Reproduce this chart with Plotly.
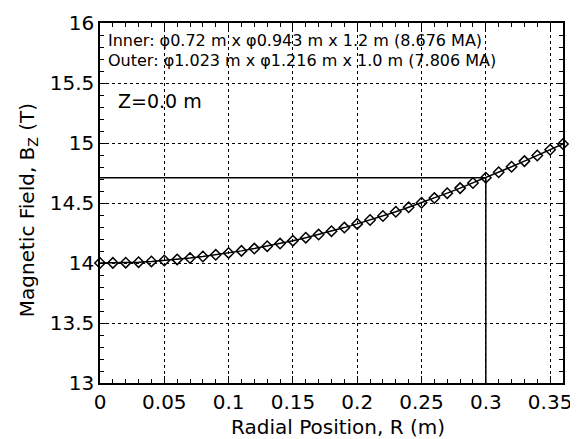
import plotly.graph_objects as go

radius_m = [0.00, 0.01, 0.02, 0.03, 0.04, 0.05, 0.06, 0.07, 0.08, 0.09,
            0.10, 0.11, 0.12, 0.13, 0.14, 0.15, 0.16, 0.17, 0.18, 0.19,
            0.20, 0.21, 0.22, 0.23, 0.24, 0.25, 0.26, 0.27, 0.28, 0.29,
            0.30, 0.31, 0.32, 0.33, 0.34, 0.35, 0.36]
bz_tesla = [14.000, 14.001, 14.003, 14.007, 14.013, 14.021, 14.030, 14.041, 14.054, 14.068,
            14.084, 14.101, 14.120, 14.140, 14.162, 14.186, 14.211, 14.237, 14.265, 14.295,
            14.326, 14.358, 14.392, 14.427, 14.464, 14.502, 14.541, 14.582, 14.624, 14.667,
            14.711, 14.756, 14.802, 14.849, 14.896, 14.944, 14.992]

x_ticks = [0, 0.05, 0.1, 0.15, 0.2, 0.25, 0.3, 0.35]
x_tick_labels = ["0", "0.05", "0.1", "0.15", "0.2", "0.25", "0.3", "0.35"]
y_ticks = [13, 13.5, 14, 14.5, 15, 15.5, 16]
y_tick_labels = ["13", "13.5", "14", "14.5", "15", "15.5", "16"]

x_title = "Radial Position, R (m)"
y_title = "Magnetic Field, B<sub>Z</sub> (T)"
inner_text = "Inner: φ0.72 m x φ0.943 m x 1.2 m (8.676 MA)"
outer_text = "Outer: φ1.023 m x φ1.216 m x 1.0 m (7.806 MA)"
z_text = "Z=0.0 m"

marker_r = 0.30
marker_b = bz_tesla[radius_m.index(marker_r)]

FONT = "DejaVu Sans, Liberation Sans, Arial, sans-serif"

fig = go.Figure()
fig.add_trace(go.Scatter(
    x=radius_m, y=bz_tesla, mode="lines+markers",
    line=dict(color="black", width=1.5),
    marker=dict(symbol="diamond-open", size=8, color="black", line=dict(width=1.5)),
    showlegend=False, cliponaxis=False,
))

fig.add_shape(type="line", x0=0, x1=marker_r, y0=marker_b, y1=marker_b,
              line=dict(color="black", width=1.5))
fig.add_shape(type="line", x0=marker_r, x1=marker_r, y0=13, y1=marker_b,
              line=dict(color="black", width=1.5))

axis_common = dict(
    showline=True, linecolor="black", linewidth=1.5, mirror="ticks",
    ticks="inside", ticklen=7, tickwidth=1, tickcolor="black",
    showgrid=True, gridcolor="black", gridwidth=1, griddash="dot",
    zeroline=False, automargin=False,
    tickfont=dict(family=FONT, size=20, color="black"),
)

fig.update_xaxes(
    range=[0, 0.36], tickvals=x_ticks, ticktext=x_tick_labels,
    minor=dict(ticks="inside", ticklen=4, dtick=0.01, tick0=0, tickcolor="black", showgrid=False),
    **axis_common,
)
fig.update_yaxes(
    range=[13, 16], tickvals=y_ticks, ticktext=y_tick_labels,
    minor=dict(ticks="inside", ticklen=4, dtick=0.1, tick0=13, tickcolor="black", showgrid=False),
    **axis_common,
)

fig.add_annotation(xref="paper", yref="paper", x=0.514, y=-0.122, xanchor="center", yanchor="middle",
                   text=x_title, showarrow=False,
                   font=dict(family=FONT, size=20, color="black"))
fig.add_annotation(xref="paper", yref="paper", x=-0.1555, y=0.48, xanchor="center", yanchor="middle",
                   text=y_title, showarrow=False, textangle=-90,
                   font=dict(family=FONT, size=20, color="black"))

fig.add_annotation(xref="paper", yref="paper", x=0.013, y=0.952, xanchor="left", yanchor="middle",
                   text=inner_text, showarrow=False, align="left",
                   font=dict(family=FONT, size=16, color="black"))
fig.add_annotation(xref="paper", yref="paper", x=0.013, y=0.896, xanchor="left", yanchor="middle",
                   text=outer_text, showarrow=False, align="left",
                   font=dict(family=FONT, size=16, color="black"))
fig.add_annotation(xref="paper", yref="paper", x=0.035, y=0.784, xanchor="left", yanchor="middle",
                   text=z_text, showarrow=False,
                   font=dict(family=FONT, size=19, color="black"))

fig.update_layout(
    width=570, height=431,
    margin=dict(l=92, r=15, t=15, b=56),
    plot_bgcolor="white", paper_bgcolor="white",
    font=dict(family=FONT, color="black"),
)

fig.write_html("out.html")
